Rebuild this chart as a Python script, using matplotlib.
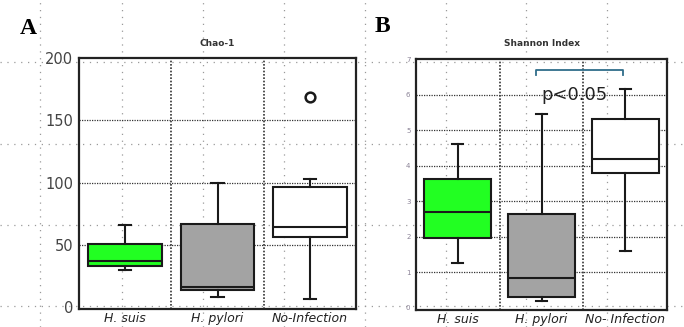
import numpy as np
import matplotlib.pyplot as plt
from matplotlib.lines import Line2D

# categorias e valores
groups = ["H. suis", "H. pylori", "No-Infection"]
groups_b = ["H. suis", "H. pylori", "No- Infection"]
colors = ["#22ff22", "#a3a3a3", "#ffffff"]

# Chao-1: (whislo, q1, med, q3, whishi)
chao_lo = [30, 8, 6.5]
chao_q1 = [33, 14, 56]
chao_med = [37, 16.5, 64]
chao_q3 = [51, 66.5, 96.5]
chao_hi = [66, 100, 103]
chao_out = [[], [], [169]]

# Shannon
shan_lo = [1.25, 0.2, 1.6]
shan_q1 = [1.97, 0.3, 3.8]
shan_med = [2.7, 0.85, 4.2]
shan_q3 = [3.63, 2.65, 5.3]
shan_hi = [4.6, 5.45, 6.15]
shan_out = [[], [], []]

chao_ticks = [0, 50, 100, 150, 200]
shan_ticks = [0, 1, 2, 3, 4, 5, 6, 7]


def stats(lo, q1, med, q3, hi, out):
    return [dict(whislo=lo[i], q1=q1[i], med=med[i], q3=q3[i], whishi=hi[i],
                 fliers=out[i]) for i in range(len(lo))]


fig = plt.figure(figsize=(6.84, 3.27), dpi=100)

# grade pontilhada de fundo (papel)
bg = fig.add_axes([0, 0, 1, 1], zorder=0)
bg.set_xlim(0, 684)
bg.set_ylim(327, 0)
bg.axis("off")
for x in [40, 122, 203, 284, 365, 446, 526, 607]:
    bg.axvline(x, color="#9a9a9a", lw=0.9, ls=(0, (1, 4.5)))
for y in [62, 144, 225, 306]:
    bg.axhline(y, color="#9a9a9a", lw=0.9, ls=(0, (1, 4.5)))


def panel(rect, st, ticks, ylim, title, xlabels, tick_fs, tick_col):
    ax = fig.add_axes(rect, zorder=1)
    ax.patch.set_alpha(0)
    ax.set_xlim(0.5, 3.5)
    ax.set_ylim(*ylim)
    for t in ticks[1:-1]:
        ax.axhline(t, color="#333333", lw=0.9, ls=(0, (1, 1)), zorder=1)
    for x in [1.5, 2.5]:
        ax.axvline(x, color="#333333", lw=1.2, ls=(0, (1, 1)), zorder=1)
    bp = ax.bxp(st, positions=[1, 2, 3], widths=0.8, patch_artist=True,
                capwidths=0.13, manage_ticks=False,
                boxprops=dict(lw=1.5, edgecolor="#1a1a1a"),
                medianprops=dict(color="#1a1a1a", lw=1.5),
                whiskerprops=dict(color="#1a1a1a", lw=1.5),
                capprops=dict(color="#1a1a1a", lw=1.5),
                flierprops=dict(marker="o", markersize=7, markerfacecolor="none",
                                markeredgecolor="#1a1a1a", markeredgewidth=1.8))
    for patch, c in zip(bp["boxes"], colors):
        patch.set_facecolor(c)
        patch.set_zorder(2)
    for sp in ax.spines.values():
        sp.set_linewidth(1.6)
        sp.set_color("#222222")
    ax.set_yticks(ticks)
    ax.set_yticklabels([str(t) for t in ticks], fontsize=tick_fs, color=tick_col)
    ax.tick_params(axis="y", length=0, pad=4)
    ax.set_xticks([1, 2, 3])
    ax.set_xticklabels(xlabels, fontsize=9, style="italic", color="#222222")
    ax.tick_params(axis="x", length=0, pad=2)
    ax.set_title(title, fontsize=6.5, fontweight="bold", color="#333333", pad=9)
    return ax


axA = panel([79 / 684, 1 - 309 / 327, 277 / 684, 251 / 327],
            stats(chao_lo, chao_q1, chao_med, chao_q3, chao_hi, chao_out),
            chao_ticks, (-1.5, 200), "Chao-1", groups, 10.5, "#444444")
axB = panel([416 / 684, 1 - 310 / 327, 251 / 684, 251 / 327],
            stats(shan_lo, shan_q1, shan_med, shan_q3, shan_hi, shan_out),
            shan_ticks, (-0.06, 7), "Shannon Index", groups_b, 5, "#8a8296")

# significancia
axB.plot([1.93, 1.93, 2.98, 2.98], [6.55, 6.7, 6.7, 6.55], color="#2f6d8a", lw=1.3,
         zorder=4)
axB.text(2.4, 6.0, "p<0.05", fontsize=13, ha="center", va="center",
         color="#222222", zorder=4)

fig.text(28 / 684, 1 - 28 / 327, "A", fontsize=17, fontweight="bold",
         family="Liberation Serif", ha="center", va="center")
fig.text(382 / 684, 1 - 26 / 327, "B", fontsize=17, fontweight="bold",
         family="Liberation Serif", ha="center", va="center")

fig.savefig("out.png", dpi=100)
